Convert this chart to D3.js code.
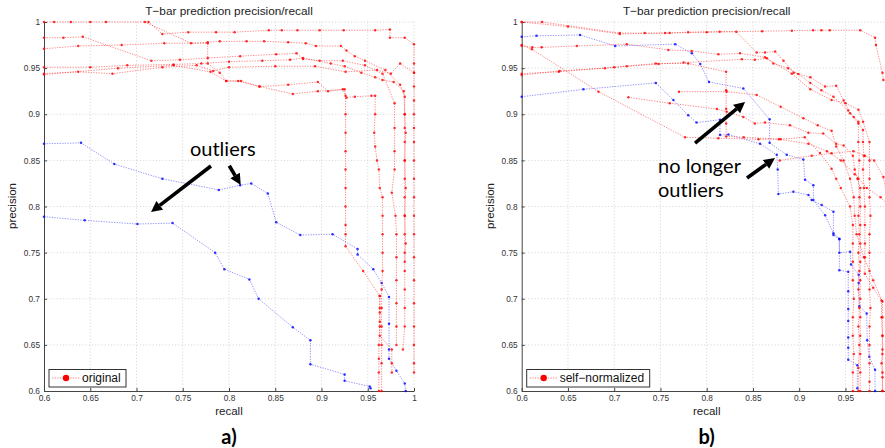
<!DOCTYPE html>
<html><head><meta charset="utf-8">
<script src="https://cdn.jsdelivr.net/npm/d3@7"></script>
<style>
html,body{margin:0;padding:0;background:#fff;}
svg{display:block;}
</style></head>
<body>
<svg id="chart" width="885" height="448"></svg>
<script>
// ---------------- DATA ----------------
const titleText = "T\u2212bar prediction precision/recall";
const xLabelText = "recall";
const yLabelText = "precision";
const xTicks = [0.6,0.65,0.7,0.75,0.8,0.85,0.9,0.95,1];
const xTickLabels = ["0.6","0.65","0.7","0.75","0.8","0.85","0.9","0.95","1"];
const yTicks = [0.6,0.65,0.7,0.75,0.8,0.85,0.9,0.95,1];
const yTickLabels = ["0.6","0.65","0.7","0.75","0.8","0.85","0.9","0.95","1"];
const legendA = "original";
const legendB = "self\u2212normalized";
const panelLabels = ["a)","b)"];

// Panel a) red curves [recall, precision]
const aRed1 = [[0.6,1],[0.611,1],[0.629,1],[0.65,1],[0.667,1],[0.713,1],[0.728,0.987],[0.756,0.989],[0.786,0.989],[0.806,0.989],[0.843,0.991],[0.857,0.991],[0.874,0.991],[0.898,0.991],[0.924,0.991],[0.958,0.991],[0.974,0.992],[0.974,0.983],[0.99,0.983],[1,0.976],[1,0.955],[1,0.945],[1,0.93],[1,0.915],[1,0.9],[1,0.885],[1,0.87],[1,0.85],[1,0.83],[1,0.81],[1,0.79],[1,0.77],[1,0.745],[1,0.72],[1,0.695],[1,0.67],[1,0.65],[1,0.63],[1,0.62]];
const aRed2 = [[0.709,1],[0.759,0.977],[0.777,0.978],[0.79,0.979],[0.819,0.979],[0.838,0.979],[0.864,0.978],[0.883,0.977],[0.894,0.974],[0.921,0.974],[0.927,0.969],[0.936,0.963],[0.947,0.958],[0.969,0.948],[0.985,0.932],[0.99,0.919],[0.99,0.9],[0.99,0.885],[0.99,0.87],[0.99,0.85],[0.99,0.83],[0.99,0.81],[0.99,0.79],[0.99,0.77],[0.99,0.75],[0.99,0.73],[0.99,0.71],[0.99,0.69],[0.99,0.67],[0.988,0.645]];
const aRed3 = [[0.6,0.983],[0.621,0.983],[0.642,0.984],[0.716,0.958],[0.747,0.959],[0.777,0.961],[0.812,0.963],[0.851,0.965],[0.873,0.966],[0.88,0.96],[0.898,0.958],[0.923,0.958],[0.947,0.953],[0.966,0.944],[0.979,0.912],[0.979,0.885],[0.979,0.86],[0.979,0.84],[0.976,0.815],[0.98,0.79],[0.981,0.77],[0.981,0.745],[0.981,0.72],[0.981,0.695],[0.981,0.67],[0.981,0.65]];
const aRed4 = [[0.6,0.971],[0.637,0.974],[0.684,0.975],[0.73,0.977],[0.777,0.977],[0.777,0.955],[0.79,0.945],[0.797,0.936],[0.813,0.936],[0.833,0.93],[0.864,0.932],[0.896,0.935],[0.907,0.925],[0.923,0.927],[0.927,0.918],[0.936,0.919],[0.954,0.92],[0.958,0.92],[0.958,0.9],[0.957,0.88],[0.958,0.865],[0.96,0.85],[0.962,0.84],[0.963,0.82],[0.966,0.81],[0.966,0.79],[0.966,0.77],[0.966,0.75],[0.966,0.73],[0.965,0.71],[0.965,0.69],[0.965,0.67],[0.965,0.65],[0.965,0.63],[0.965,0.6]];
const aRed5 = [[0.6,0.951],[0.65,0.951],[0.69,0.953],[0.74,0.954],[0.77,0.955],[0.8,0.957],[0.836,0.958],[0.866,0.959],[0.88,0.961],[0.91,0.955],[0.925,0.952],[0.943,0.945],[0.958,0.94],[0.966,0.937],[0.978,0.935],[0.989,0.925],[0.99,0.9],[0.991,0.88],[0.99,0.85],[0.991,0.82],[0.99,0.79],[0.991,0.76],[0.99,0.74]];
const aRed6 = [[0.6,0.944],[0.637,0.946],[0.674,0.944],[0.728,0.951],[0.765,0.953],[0.783,0.947],[0.8,0.951],[0.85,0.952],[0.893,0.952],[0.926,0.946],[0.96,0.948],[0.975,0.944],[0.985,0.955],[1,0.945]];
const aRed7 = [[0.6,0.943],[0.68,0.95],[0.74,0.953],[0.78,0.946],[0.797,0.936],[0.81,0.936],[0.833,0.93],[0.869,0.922],[0.896,0.925],[0.925,0.927],[0.926,0.92],[0.926,0.9],[0.926,0.88],[0.926,0.86],[0.926,0.84],[0.926,0.82],[0.926,0.8],[0.926,0.78],[0.926,0.77],[0.926,0.757],[0.945,0.73],[0.963,0.703],[0.963,0.69],[0.963,0.675],[0.963,0.66],[0.976,0.645],[0.976,0.63],[0.976,0.62]];
const aRed8 = [[0.963,0.703],[0.963,0.685],[0.963,0.67],[0.962,0.65],[0.962,0.635],[0.962,0.62],[0.962,0.6]];
// Panel a) blue curves
const aBlue1 = [[0.6,0.868],[0.64,0.869],[0.676,0.846],[0.728,0.83],[0.789,0.818],[0.812,0.823],[0.824,0.825],[0.842,0.814],[0.851,0.783],[0.877,0.769],[0.912,0.77],[0.939,0.754],[0.939,0.748],[0.956,0.732],[0.965,0.717],[0.973,0.702],[0.973,0.673],[0.973,0.645],[0.973,0.635],[0.981,0.622],[0.99,0.608],[0.991,0.6]];
const aBlue2 = [[0.6,0.789],[0.644,0.785],[0.701,0.781],[0.739,0.782],[0.785,0.75],[0.795,0.732],[0.822,0.721],[0.832,0.7],[0.869,0.669],[0.888,0.655],[0.888,0.629],[0.925,0.618],[0.925,0.611],[0.952,0.605],[0.953,0.603]];

// Panel b) red curves
const bRed1 = [[0.6,1],[0.622,1],[0.706,0.988],[0.733,0.988],[0.755,0.988],[0.78,0.989],[0.814,0.9895],[0.832,0.9895],[0.854,0.967],[0.863,0.967],[0.874,0.968],[0.883,0.958],[0.894,0.945],[0.912,0.94],[0.928,0.93],[0.94,0.931],[0.948,0.915],[0.955,0.901],[0.964,0.89],[0.969,0.883],[0.969,0.87],[0.97,0.855],[0.969,0.84],[0.97,0.82],[0.971,0.8],[0.971,0.78],[0.971,0.76],[0.971,0.745],[0.971,0.727],[0.98,0.712],[0.989,0.698],[0.989,0.68],[0.99,0.66],[0.99,0.645],[0.989,0.63],[0.99,0.615],[0.99,0.6]];
const bRed2 = [[0.6,1],[0.65,0.995],[0.706,0.987],[0.76,0.988],[0.8,0.989],[0.86,0.99],[0.892,0.9906],[0.915,0.991],[0.924,0.991],[0.933,0.991],[0.966,0.991],[0.982,0.983],[0.983,0.975],[0.99,0.945],[0.991,0.937]];
const bRed3 = [[0.6,0.9743],[0.6115,0.9725],[0.6216,0.9725],[0.6595,0.974],[0.7135,0.976],[0.7586,0.9697],[0.7838,0.9686],[0.8126,0.965],[0.836,0.966],[0.863,0.9617],[0.872,0.955],[0.888,0.95],[0.899,0.9436],[0.912,0.934],[0.924,0.926],[0.937,0.919],[0.953,0.904],[0.959,0.897],[0.964,0.892],[0.964,0.87],[0.965,0.85],[0.964,0.83],[0.965,0.81],[0.964,0.79],[0.965,0.77],[0.964,0.75],[0.965,0.73],[0.964,0.71],[0.965,0.69],[0.964,0.67],[0.965,0.65],[0.964,0.625],[0.964,0.6]];
const bRed4 = [[0.6,0.9425],[0.641,0.947],[0.69,0.95],[0.7135,0.952],[0.748,0.9545],[0.775,0.956],[0.838,0.9595],[0.852,0.959],[0.865,0.9606],[0.892,0.944],[0.912,0.927],[0.935,0.9155],[0.95,0.912],[0.964,0.905],[0.969,0.892],[0.976,0.87],[0.976,0.85],[0.976,0.83],[0.976,0.81],[0.977,0.79],[0.976,0.77],[0.976,0.75],[0.976,0.73],[0.976,0.71],[0.977,0.69],[0.976,0.67],[0.976,0.65],[0.976,0.63],[0.976,0.61],[0.976,0.6]];
const bRed5 = [[0.6,0.944],[0.64,0.946],[0.7,0.951],[0.745,0.955],[0.78,0.955],[0.821,0.946],[0.821,0.926],[0.821,0.906],[0.821,0.89],[0.821,0.876],[0.84,0.875],[0.88,0.873],[0.906,0.875],[0.9225,0.858],[0.935,0.841],[0.94,0.83],[0.945,0.82],[0.955,0.8],[0.958,0.78],[0.958,0.76],[0.958,0.74],[0.958,0.72],[0.959,0.7],[0.958,0.68],[0.958,0.66],[0.959,0.64],[0.958,0.62],[0.958,0.6]];
const bRed6 = [[0.6,0.975],[0.611,0.9705],[0.683,0.9245],[0.7766,0.875],[0.8126,0.874],[0.856,0.8728],[0.878,0.873],[0.91,0.868],[0.93,0.86],[0.945,0.85],[0.96,0.835],[0.973,0.82],[0.988,0.81],[0.998,0.8]];
const bRed7 = [[0.7153,0.9183],[0.76,0.912],[0.811,0.9057],[0.8216,0.9028],[0.8396,0.897],[0.852,0.89],[0.863,0.891],[0.89,0.888],[0.91,0.88],[0.926,0.879],[0.94,0.868],[0.948,0.866],[0.958,0.855],[0.96,0.84],[0.963,0.83],[0.966,0.82],[0.966,0.8],[0.966,0.78],[0.966,0.76],[0.966,0.74],[0.966,0.72],[0.966,0.7],[0.966,0.68],[0.966,0.66],[0.966,0.64],[0.966,0.62],[0.966,0.6]];
const bRed8 = [[0.77,0.9245],[0.8216,0.9245],[0.854,0.921],[0.88,0.908],[0.9045,0.8956],[0.92,0.888],[0.935,0.882],[0.94,0.865],[0.948,0.85],[0.955,0.83],[0.959,0.81],[0.96,0.79],[0.962,0.77],[0.97,0.745],[0.98,0.72],[0.99,0.697],[0.99,0.68],[0.99,0.66],[0.99,0.64],[0.99,0.62],[0.99,0.6]];
const bRed9 = [[0.879,0.85],[0.9135,0.855],[0.935,0.8576],[0.9586,0.86],[0.971,0.855],[0.981,0.85],[0.991,0.832],[0.995,0.81],[0.996,0.79],[0.996,0.77],[0.996,0.75],[0.996,0.73],[0.996,0.71],[0.996,0.69],[0.996,0.67],[0.996,0.65],[0.996,0.63],[0.996,0.61]];
// Panel b) blue curves
const bBlue1 = [[0.6,0.984],[0.616,0.985],[0.663,0.986],[0.701,0.974],[0.766,0.976],[0.784,0.966],[0.793,0.9545],[0.8025,0.935],[0.8396,0.928],[0.868,0.8945],[0.868,0.869],[0.8865,0.856],[0.9045,0.851],[0.9063,0.829],[0.9153,0.823],[0.9153,0.807],[0.928,0.7905],[0.937,0.771],[0.9434,0.7645],[0.9434,0.75],[0.955,0.751],[0.956,0.737],[0.9643,0.726],[0.9643,0.717],[0.965,0.692],[0.973,0.684],[0.9735,0.655],[0.9758,0.637],[0.982,0.623],[0.982,0.6]];
const bBlue2 = [[0.6,0.919],[0.6667,0.927],[0.745,0.934],[0.764,0.9154],[0.78,0.899],[0.789,0.891],[0.8144,0.894],[0.8144,0.8775],[0.8234,0.878],[0.8577,0.868],[0.8757,0.856],[0.8768,0.84],[0.8775,0.8136],[0.8937,0.816],[0.91,0.8125],[0.9135,0.807],[0.9243,0.8016],[0.937,0.7944],[0.937,0.769],[0.9434,0.765],[0.9434,0.731],[0.953,0.7293],[0.953,0.708],[0.953,0.689],[0.953,0.676],[0.953,0.658],[0.953,0.647],[0.953,0.634],[0.9628,0.628],[0.9628,0.603]];

// annotation anchors (data space)
const annotA = {text:["outliers"], textAt:[0.7578,0.8543], arrows:[[[0.7805,0.8439],[0.7157,0.794]],[[0.8003,0.8442],[0.8127,0.8233]]]};
const annotB = {text:["no longer","outliers"], textAt:[0.7474,0.8363], arrows:[[[0.7874,0.8688],[0.8415,0.9133]],[[0.8436,0.8309],[0.8738,0.8526]]]};

// ---------------- DRAW ----------------
const W = 885;
const svg = d3.select("#chart");
const yScale = d3.scaleLinear().domain([0.6,1]).range([391,22]);

const RED_LINE = "#ff2a2a", RED_DOT = "#ff0000";
const BLUE_LINE = "#3a3aff", BLUE_DOT = "#0000ff";

function drawPanel(opt){
  const x = d3.scaleLinear().domain([0.6,1]).range([opt.left, opt.left+370]);
  const y = yScale;
  const g = svg.append("g");
  const clipId = "clip"+opt.id;
  svg.append("clipPath").attr("id",clipId).append("rect")
    .attr("x",opt.left-3).attr("y",18).attr("width",377).attr("height",378);

  // grid
  const grid = g.append("g").attr("stroke","#c8c8c8").attr("stroke-width",0.8).attr("stroke-dasharray","1,2.2");
  xTicks.forEach(t=>{ if(t>0.6) grid.append("line").attr("x1",x(t)).attr("x2",x(t)).attr("y1",y(0.6)).attr("y2",y(1)); });
  yTicks.forEach(t=>{ if(t>0.6) grid.append("line").attr("x1",x(0.6)).attr("x2",x(1)).attr("y1",y(t)).attr("y2",y(t)); });

  // axes (labels that would fall outside the window are left blank, as in the reference crop)
  const xAxis = d3.axisBottom(x).tickValues(xTicks)
    .tickFormat((d,i)=> x(d)+4 > W ? "" : xTickLabels[i])
    .tickSizeInner(-3).tickSizeOuter(0).tickPadding(4);
  const yAxis = d3.axisLeft(y).tickValues(yTicks).tickFormat((d,i)=>yTickLabels[i]).tickSizeInner(-3).tickSizeOuter(0).tickPadding(4);
  const gx = g.append("g").attr("transform",`translate(0,${y(0.6)})`).call(xAxis);
  const gy = g.append("g").attr("transform",`translate(${x(0.6)},0)`).call(yAxis);
  [gx,gy].forEach(a=>{
    a.select(".domain").attr("stroke","#444").attr("stroke-width",1);
    a.selectAll(".tick line").attr("stroke","#444");
    a.selectAll("text").attr("font-family","Liberation Sans, Arial, sans-serif").attr("font-size",8.3).attr("fill","#333");
  });

  // series
  const line = d3.line().x(d=>x(d[0])).y(d=>y(d[1]));
  const data = g.append("g").attr("clip-path",`url(#${clipId})`);
  function series(list, lc, dc){
    list.forEach(s=>{
      data.append("path").datum(s).attr("d",line).attr("fill","none")
        .attr("stroke",lc).attr("stroke-width",1).attr("stroke-opacity",0.55).attr("stroke-dasharray","1.3,1.3");
      data.append("g").selectAll("circle").data(s).join("circle")
        .attr("cx",d=>x(d[0])).attr("cy",d=>y(d[1])).attr("r",1.25).attr("fill",dc).attr("fill-opacity",0.8);
    });
  }
  series(opt.blue, BLUE_LINE, BLUE_DOT);
  series(opt.red, RED_LINE, RED_DOT);

  // title & labels
  const cx = opt.left+185;
  g.append("text").attr("x",cx).attr("y",15).attr("text-anchor","middle")
    .attr("font-family","Liberation Sans, Arial, sans-serif").attr("font-size",11.8).attr("fill","#222").text(titleText);
  g.append("text").attr("x",cx).attr("y",415).attr("text-anchor","middle")
    .attr("font-family","Liberation Sans, Arial, sans-serif").attr("font-size",11.5).attr("fill","#222").text(xLabelText);
  g.append("text").attr("transform",`translate(${opt.left-28},206) rotate(-90)`).attr("text-anchor","middle")
    .attr("font-family","Liberation Sans, Arial, sans-serif").attr("font-size",11.5).attr("fill","#222").text(yLabelText);
  g.append("text").attr("x",cx).attr("y",444).attr("text-anchor","middle")
    .attr("font-family","Lato, Open Sans, sans-serif").attr("font-weight","bold").attr("font-size",20).attr("fill","#000").text(opt.panelLabel);

  // legend
  const lg = g.append("g");
  const lx = opt.left+5;
  lg.append("rect").attr("x",lx).attr("y",369.5).attr("width",opt.legendW).attr("height",17.5)
    .attr("fill","#fff").attr("stroke","#333").attr("stroke-width",1);
  lg.append("line").attr("x1",lx+3).attr("x2",lx+31).attr("y1",378).attr("y2",378)
    .attr("stroke",RED_LINE).attr("stroke-opacity",0.6).attr("stroke-dasharray","1.3,1.3");
  lg.append("circle").attr("cx",lx+17).attr("cy",378).attr("r",3.2).attr("fill",RED_DOT);
  lg.append("text").attr("x",lx+33).attr("y",382.3).attr("font-family","Liberation Sans, Arial, sans-serif")
    .attr("font-size",12).attr("fill","#111").text(opt.legend);

  // annotations
  const an = opt.annot;
  an.text.forEach((t,i)=>{
    g.append("text").attr("x",x(an.textAt[0])).attr("y",y(an.textAt[1])+i*24)
      .attr("font-family","Lato, Open Sans, sans-serif").attr("font-size",20).attr("fill","#000").text(t);
  });
  an.arrows.forEach(([s,e])=>{
    const x1=x(s[0]), y1=y(s[1]), x2=x(e[0]), y2=y(e[1]);
    const ang = Math.atan2(y2-y1,x2-x1);
    const hl=11, hw=5.5;
    const bx = x2-hl*Math.cos(ang), by = y2-hl*Math.sin(ang);
    g.append("line").attr("x1",x1).attr("y1",y1).attr("x2",bx).attr("y2",by)
      .attr("stroke","#000").attr("stroke-width",3.6);
    const px=-Math.sin(ang), py=Math.cos(ang);
    g.append("path").attr("d",`M${x2},${y2}L${bx+px*hw},${by+py*hw}L${bx-px*hw},${by-py*hw}Z`).attr("fill","#000");
  });
}

drawPanel({id:"a", left:44, red:[aRed1,aRed2,aRed3,aRed4,aRed5,aRed6,aRed7,aRed8], blue:[aBlue1,aBlue2],
  legend:legendA, legendW:77, panelLabel:panelLabels[0], annot:annotA});
drawPanel({id:"b", left:521.7, red:[bRed1,bRed2,bRed3,bRed4,bRed5,bRed6,bRed7,bRed8,bRed9], blue:[bBlue1,bBlue2],
  legend:legendB, legendW:123, panelLabel:panelLabels[1], annot:annotB});
</script>
</body></html>
